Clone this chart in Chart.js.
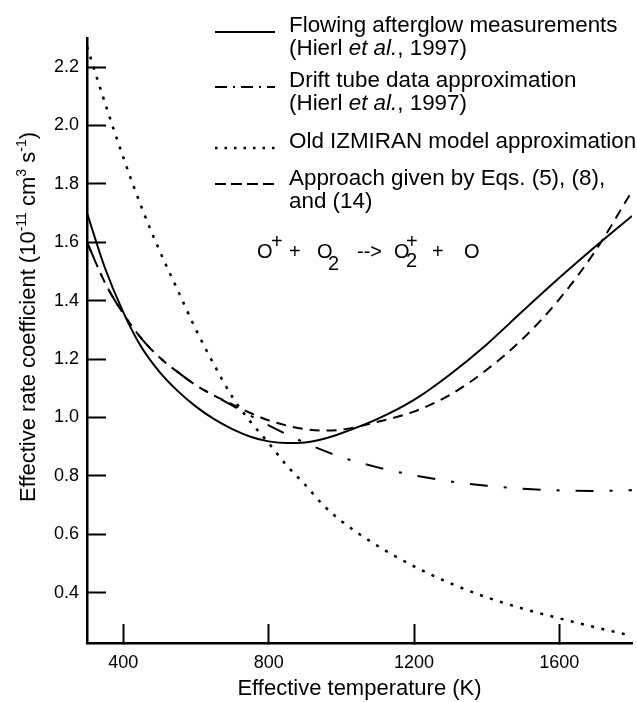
<!DOCTYPE html>
<html>
<head>
<meta charset="utf-8">
<script src="https://cdn.jsdelivr.net/npm/chart.js@4.4.1/dist/chart.umd.min.js"></script>
<style>
  html, body { margin: 0; padding: 0; background: #fff; }
  #wrap { position: relative; width: 637px; height: 702px; overflow: hidden;
          font-family: "Liberation Sans", Arial, Helvetica, sans-serif; color: #000; }
  #chart { position: absolute; left: 0; top: 0; }
  .leg { position: absolute; left: 289px; font-size: 22.4px; line-height: 23px; white-space: nowrap; }
  .r { position: absolute; font-size: 20px; line-height: 20px; white-space: nowrap; }
  #ytitle { position: absolute; left: 27.5px; top: 317px; font-size: 22px; line-height: 22px;
            white-space: nowrap; transform: translate(-50%, -50%) rotate(-90deg); }
  #ytitle sup { font-size: 14px; line-height: 0; vertical-align: 0; position: relative; top: -9px; }
</style>
</head>
<body>
<div id="wrap">
  <canvas id="chart" width="637" height="702"></canvas>
  <div id="ytitle">Effective rate coefficient (10<sup>-11</sup> cm<sup>3</sup> s<sup>-1</sup>)</div>

  <div class="leg" style="top:13px">Flowing afterglow measurements<br>(Hierl <i>et al.</i>, 1997)</div>
  <div class="leg" style="top:68px">Drift tube data approximation<br>(Hierl <i>et al.</i>, 1997)</div>
  <div class="leg" style="top:129px">Old IZMIRAN model approximation</div>
  <div class="leg" style="top:166px">Approach given by Eqs. (5), (8),<br>and (14)</div>

  <span class="r" style="left:257px; top:241px">O</span>
  <span class="r" style="left:271px; top:231px">+</span>
  <span class="r" style="left:289px; top:241px">+</span>
  <span class="r" style="left:317px; top:241px">O</span>
  <span class="r" style="left:328px; top:253px">2</span>
  <span class="r" style="left:357px; top:241px">--&gt;</span>
  <span class="r" style="left:394px; top:241px">O</span>
  <span class="r" style="left:406px; top:231px">+</span>
  <span class="r" style="left:406px; top:250px">2</span>
  <span class="r" style="left:432px; top:241px">+</span>
  <span class="r" style="left:464px; top:241px">O</span>
</div>
<script>
// effective temperature (K) grid shared by all curves
const temps = [300, 350, 400, 450, 500, 550, 600, 650, 700, 750, 800, 850, 900, 950, 1000,
               1100, 1200, 1300, 1400, 1500, 1600, 1700, 1800];

// rate coefficients, 10^-11 cm^3 s^-1
const flowing  = [1.70, 1.51, 1.36, 1.24, 1.155, 1.09, 1.037, 0.994, 0.96, 0.934, 0.918, 0.912, 0.914, 0.926, 0.946,
                  0.995, 1.06, 1.148, 1.25, 1.365, 1.478, 1.586, 1.69];
const drift    = [1.60, 1.46, 1.355, 1.27, 1.205, 1.155, 1.11, 1.075, 1.04, 1.006, 0.973, 0.942, 0.913, 0.887, 0.864,
                  0.829, 0.802, 0.781, 0.766, 0.756, 0.75, 0.748, 0.751];
const izmiran  = [2.27, 2.075, 1.89, 1.72, 1.57, 1.435, 1.30, 1.18, 1.07, 0.985, 0.912, 0.835, 0.77, 0.70, 0.645,
                  0.56, 0.49, 0.432, 0.384, 0.345, 0.312, 0.281, 0.252];
const approach = [1.60, 1.46, 1.355, 1.27, 1.205, 1.155, 1.11, 1.075, 1.045, 1.015, 0.99, 0.972, 0.96, 0.955, 0.958,
                  0.985, 1.02, 1.078, 1.163, 1.27, 1.405, 1.572, 1.775];

const xTicks = [400, 800, 1200, 1600];
const yTicks = [0.4, 0.6, 0.8, 1.0, 1.2, 1.4, 1.6, 1.8, 2.0, 2.2];

const FONT = '"Liberation Sans", Arial, Helvetica, sans-serif';

function pts(vals) {
    return temps.map((t, i) => ({ x: t, y: vals[i] }));
}

// little line samples in front of the legend text
const legendSamples = {
    id: 'legendSamples',
    afterDraw(chart) {
        const ctx = chart.ctx;
        const rows = [
            { y: 32,  dash: [],            w: 2 },
            { y: 87,  dash: [12, 6, 2, 6], w: 2 },
            { y: 148, dash: [2.5, 7],      w: 2.5 },
            { y: 184, dash: [11, 5],       w: 2 }
        ];
        ctx.save();
        ctx.strokeStyle = '#000';
        rows.forEach(r => {
            ctx.beginPath();
            ctx.lineWidth = r.w;
            ctx.setLineDash(r.dash);
            ctx.moveTo(215, r.y);
            ctx.lineTo(275, r.y);
            ctx.stroke();
        });
        ctx.restore();
    }
};

new Chart(document.getElementById('chart').getContext('2d'), {
    type: 'line',
    data: {
        datasets: [
            { label: 'Flowing afterglow measurements', data: pts(flowing),
              borderColor: '#000', borderWidth: 2, borderDash: [] },
            { label: 'Drift tube data approximation', data: pts(drift),
              borderColor: '#000', borderWidth: 2, borderDash: [18, 16, 3, 16] },
            { label: 'Old IZMIRAN model approximation', data: pts(izmiran),
              borderColor: '#000', borderWidth: 2.5, borderDash: [3, 7.5] },
            { label: 'Approach given by Eqs. (5), (8), and (14)', data: pts(approach),
              borderColor: '#000', borderWidth: 2, borderDash: [10, 7] }
        ]
    },
    options: {
        responsive: false,
        animation: false,
        devicePixelRatio: 1,
        layout: { padding: { top: 10, right: 5, left: 0, bottom: 0 } },
        elements: {
            point: { radius: 0 },
            line: { cubicInterpolationMode: 'monotone', fill: false }
        },
        plugins: { legend: { display: false }, tooltip: { enabled: false } },
        scales: {
            x: {
                type: 'linear', min: 300, max: 1800,
                afterBuildTicks: s => { s.ticks = xTicks.map(v => ({ value: v })); },
                afterFit: s => { s.height = 59; },
                grid: { display: true, drawOnChartArea: false, drawTicks: true, tickLength: -19,
                        tickWidth: 2, color: '#000' },
                border: { display: true, color: '#000', width: 2.5 },
                ticks: { padding: 28, color: '#000', font: { family: FONT, size: 18 },
                         maxRotation: 0, autoSkip: false, callback: v => String(v) },
                title: { display: true, text: 'Effective temperature (K)', color: '#000',
                         font: { family: FONT, size: 22 }, padding: { top: 0, bottom: 0 } }
            },
            y: {
                type: 'linear', min: 0.2275, max: 2.3,
                afterBuildTicks: s => { s.ticks = yTicks.map(v => ({ value: v })); },
                afterFit: s => { s.width = 87; },
                grid: { display: true, drawOnChartArea: false, drawTicks: true, tickLength: -19,
                        tickWidth: 2, color: '#000' },
                border: { display: true, color: '#000', width: 2.5 },
                ticks: { padding: 27, color: '#000', font: { family: FONT, size: 18 },
                         autoSkip: false, callback: v => v.toFixed(1) }
            }
        }
    },
    plugins: [legendSamples]
});
</script>
</body>
</html>
